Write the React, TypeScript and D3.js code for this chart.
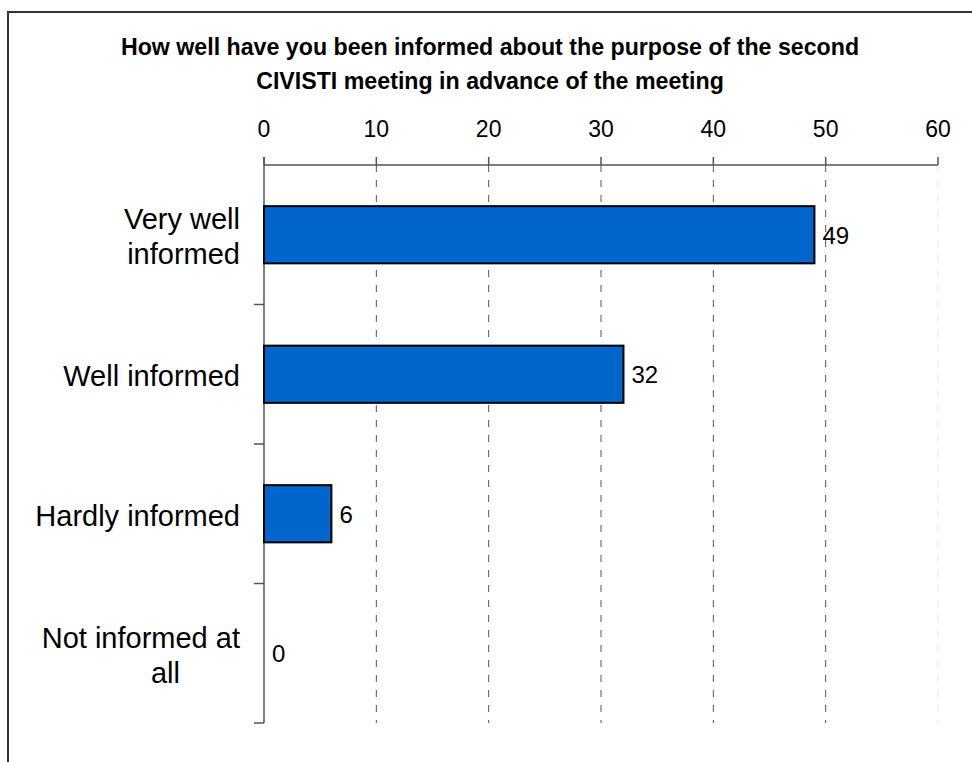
import React from "react";
import * as d3 from "d3";

const categories = ["Very well informed", "Well informed", "Hardly informed", "Not informed at all"];
const categoryLines = [["Very well", "informed"], ["Well informed"], ["Hardly informed"], ["Not informed at", "all"]];
const values = [49, 32, 6, 0];
const xTicks = [0, 10, 20, 30, 40, 50, 60];
const titleLines = [
  "How well have you been informed about the purpose of the second",
  "CIVISTI meeting in advance of the meeting",
];

export default function App() {
  const W = 972, H = 762;
  const x = d3.scaleLinear().domain([0, 60]).range([264, 938]);
  const y = d3.scaleBand<string>().domain(categories).range([165, 723]).paddingInner(0.59).paddingOuter(0.295);
  const font = "'Liberation Sans', Arial, Helvetica, sans-serif";
  const bandTicks = categories.map((c) => (y(c)! + y.bandwidth() / 2) + y.step() / 2);
  const lineRight = [[240, 240], [240], [240], [240, 180]];
  return (
    <svg width={W} height={H} style={{ position: "absolute", left: 0, top: 0, background: "#fff" }} fontFamily={font}>
      <rect x={0} y={0} width={W} height={H} fill="#fff" />
      <rect x={8} y={12} width={W + 20} height={H + 20} fill="none" stroke="#333" strokeWidth={2} />
      {titleLines.map((t, i) => (
        <text key={i} x={490} y={55 + i * 34} textAnchor="middle" fontSize={23.2} fontWeight="bold" fill="#000">{t}</text>
      ))}
      {/* grid lines */}
      {xTicks.slice(1).map((t) => (
        <line key={t} x1={x(t)} x2={x(t)} y1={165} y2={723}
          stroke={t === 60 ? "#e6e6e6" : "#555"} strokeWidth={1} strokeDasharray="7,8" />
      ))}
      {/* top axis */}
      <line x1={x(0)} x2={x(60)} y1={165} y2={165} stroke="#555" strokeWidth={1.5} />
      {xTicks.map((t) => (
        <g key={t}>
          <line x1={x(t)} x2={x(t)} y1={157} y2={165} stroke="#555" strokeWidth={1.5} />
          <text x={x(t)} y={137} textAnchor="middle" fontSize={23} fill="#000">{t}</text>
        </g>
      ))}
      {/* left axis */}
      <line x1={x(0)} x2={x(0)} y1={157} y2={723} stroke="#555" strokeWidth={1.5} />
      {bandTicks.map((ty, i) => (
        <line key={i} x1={254} x2={x(0)} y1={ty} y2={ty} stroke="#555" strokeWidth={1.5} />
      ))}
      {/* bars */}
      {categories.map((c, i) => (
        values[i] > 0 ? (
          <rect key={c} x={x(0)} y={y(c)!} width={x(values[i]) - x(0)} height={y.bandwidth()}
            fill="#0066CC" stroke="#000" strokeWidth={2} />
        ) : null
      ))}
      {/* value labels */}
      {categories.map((c, i) => (
        <text key={c} x={x(values[i]) + 8} y={y(c)! + y.bandwidth() / 2 + 9} fontSize={24} fill="#000">{values[i]}</text>
      ))}
      {/* category labels */}
      {categories.map((c, i) => {
        const lines = categoryLines[i];
        const cy = y(c)! + y.bandwidth() / 2 + 2;
        return (
          <text key={c} textAnchor="end" fontSize={29} fill="#000">
            {lines.map((l, j) => (
              <tspan key={j} x={lineRight[i][j]} y={cy + 10 + (j - (lines.length - 1) / 2) * 35}>{l}</tspan>
            ))}
          </text>
        );
      })}
    </svg>
  );
}
